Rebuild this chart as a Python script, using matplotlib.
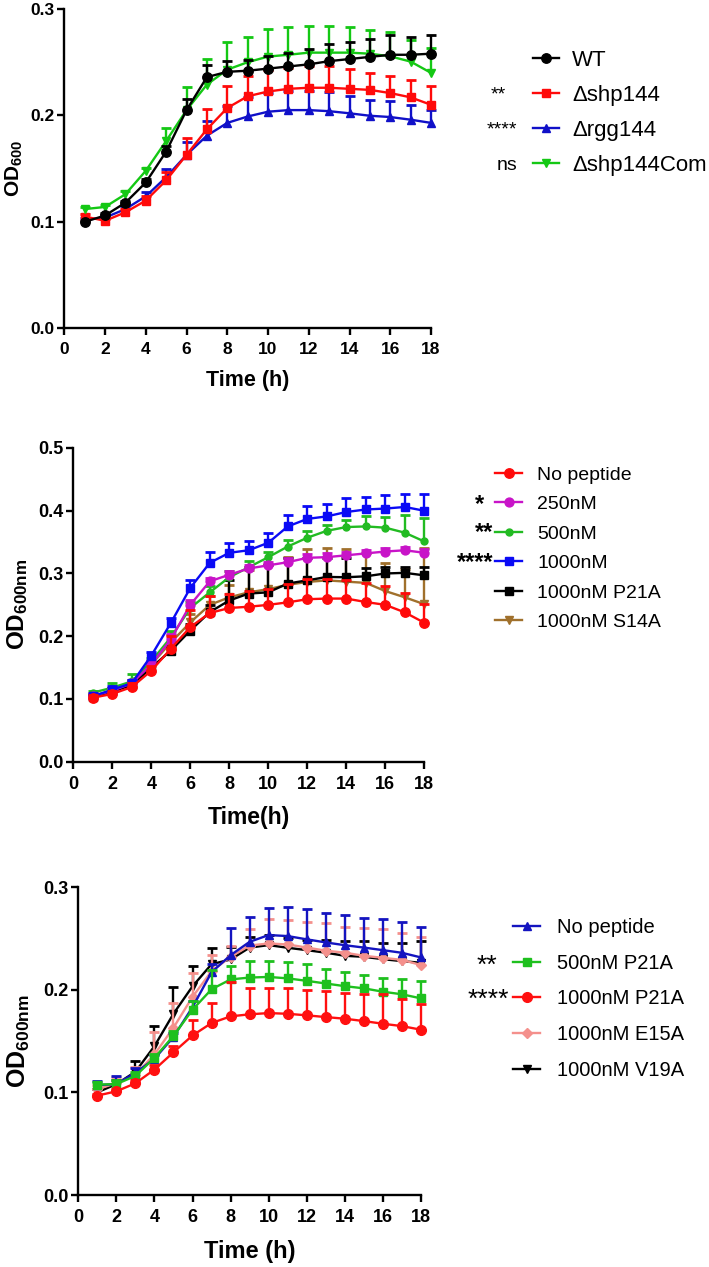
import numpy as np
import matplotlib
matplotlib.use("Agg")
import matplotlib.pyplot as plt

plt.rcParams['font.family'] = ['Liberation Sans', 'DejaVu Sans']
plt.rcParams['mathtext.fontset'] = 'custom'
plt.rcParams['mathtext.rm'] = 'Liberation Sans:bold'
plt.rcParams['mathtext.bf'] = 'Liberation Sans:bold'
plt.rcParams['mathtext.it'] = 'Liberation Sans:bold'

hours = list(range(1, 19))

# ---------------- Panel A ----------------
a_labels = ["WT", "\u0394shp144", "\u0394rgg144", "\u0394shp144Com"]
a_wt = [0.100, 0.106, 0.118, 0.137, 0.166, 0.205, 0.236, 0.241, 0.242, 0.244, 0.246, 0.248, 0.251, 0.253, 0.255, 0.257, 0.257, 0.258]
a_wt_err = [0.001, 0.002, 0.002, 0.003, 0.005, 0.010, 0.011, 0.010, 0.010, 0.012, 0.013, 0.0145, 0.016, 0.016, 0.017, 0.019, 0.017, 0.018]
a_shp = [0.105, 0.101, 0.109, 0.120, 0.139, 0.163, 0.187, 0.207, 0.218, 0.2225, 0.225, 0.226, 0.226, 0.225, 0.224, 0.221, 0.217, 0.210]
a_shp_err = [0.002, 0.002, 0.003, 0.004, 0.008, 0.016, 0.019, 0.021, 0.019, 0.020, 0.020, 0.020, 0.020, 0.019, 0.016, 0.016, 0.016, 0.018]
a_rgg = [0.102, 0.104, 0.112, 0.124, 0.142, 0.163, 0.181, 0.193, 0.199, 0.2035, 0.205, 0.205, 0.204, 0.202, 0.1997, 0.1985, 0.196, 0.193]
a_rgg_err = [0.002, 0.002, 0.003, 0.004, 0.008, 0.012, 0.014, 0.016, 0.018, 0.018, 0.018, 0.018, 0.018, 0.016, 0.015, 0.015, 0.014, 0.012]
a_com = [0.112, 0.114, 0.126, 0.148, 0.176, 0.205, 0.229, 0.243, 0.250, 0.2553, 0.257, 0.259, 0.259, 0.259, 0.258, 0.2555, 0.2506, 0.240]
a_com_err = [0.002, 0.002, 0.003, 0.003, 0.012, 0.022, 0.024, 0.026, 0.024, 0.026, 0.026, 0.025, 0.025, 0.024, 0.022, 0.023, 0.020, 0.023]
a_sig = ["", "**", "****", "ns"]

# ---------------- Panel B ----------------
b_labels = ["No peptide", "250nM", "500nM", "1000nM", "1000nM P21A", "1000nM S14A"]
b_none = [0.102, 0.108, 0.119, 0.145, 0.180, 0.2146, 0.237, 0.245, 0.247, 0.250, 0.254, 0.259, 0.260, 0.260, 0.2545, 0.250, 0.238, 0.2215]
b_none_err = [0.004, 0.005, 0.006, 0.008, 0.020, 0.027, 0.027, 0.022, 0.025, 0.025, 0.030, 0.032, 0.031, 0.030, 0.030, 0.030, 0.031, 0.030]
b_250 = [0.105, 0.113, 0.125, 0.155, 0.195, 0.250, 0.2875, 0.298, 0.308, 0.313, 0.318, 0.325, 0.326, 0.329, 0.332, 0.335, 0.337, 0.333]
b_250_err = [0.004, 0.005, 0.006, 0.006, 0.008, 0.008, 0.006, 0.006, 0.006, 0.006, 0.006, 0.006, 0.006, 0.006, 0.006, 0.006, 0.006, 0.006]
b_500 = [0.110, 0.118, 0.128, 0.160, 0.198, 0.245, 0.270, 0.294, 0.310, 0.326, 0.343, 0.357, 0.368, 0.374, 0.375, 0.373, 0.365, 0.351]
b_500_err = [0.003, 0.007, 0.012, 0.005, 0.010, 0.010, 0.010, 0.010, 0.010, 0.009, 0.011, 0.010, 0.009, 0.012, 0.016, 0.017, 0.028, 0.038]
b_1000 = [0.104, 0.115, 0.125, 0.169, 0.221, 0.277, 0.317, 0.333, 0.337, 0.349, 0.375, 0.387, 0.391, 0.398, 0.402, 0.4035, 0.406, 0.400]
b_1000_err = [0.004, 0.005, 0.006, 0.006, 0.008, 0.013, 0.018, 0.016, 0.014, 0.015, 0.019, 0.020, 0.020, 0.022, 0.020, 0.021, 0.020, 0.026]
b_p21a = [0.103, 0.112, 0.122, 0.150, 0.177, 0.209, 0.2385, 0.257, 0.268, 0.270, 0.284, 0.289, 0.2945, 0.294, 0.2955, 0.300, 0.301, 0.297]
b_p21a_err = [0.004, 0.005, 0.006, 0.006, 0.008, 0.010, 0.012, 0.032, 0.042, 0.043, 0.040, 0.036, 0.030, 0.030, 0.014, 0.010, 0.010, 0.014]
b_s14a = [0.105, 0.113, 0.125, 0.155, 0.190, 0.222, 0.250, 0.262, 0.270, 0.275, 0.282, 0.2865, 0.289, 0.287, 0.285, 0.272, 0.262, 0.251]
b_s14a_err = [0.004, 0.005, 0.006, 0.006, 0.012, 0.014, 0.014, 0.020, 0.035, 0.040, 0.045, 0.052, 0.052, 0.052, 0.048, 0.045, 0.045, 0.090]
b_sig = ["", "*", "**", "****", "", ""]

# ---------------- Panel C ----------------
c_labels = ["No peptide", "500nM P21A", "1000nM P21A", "1000nM E15A", "1000nM V19A"]
c_none = [0.107, 0.108, 0.119, 0.1326, 0.154, 0.183, 0.217, 0.2336, 0.2466, 0.2532, 0.2522, 0.249, 0.246, 0.2433, 0.241, 0.2385, 0.2359, 0.2314]
c_none_err = [0.004, 0.008, 0.005, 0.004, 0.004, 0.006, 0.008, 0.026, 0.024, 0.026, 0.028, 0.030, 0.029, 0.029, 0.0285, 0.030, 0.030, 0.030]
c_p21a500 = [0.1075, 0.108, 0.116, 0.1336, 0.155, 0.1805, 0.2004, 0.210, 0.2118, 0.2124, 0.211, 0.2086, 0.206, 0.2034, 0.2013, 0.198, 0.1955, 0.1915]
c_p21a500_err = [0.003, 0.004, 0.004, 0.004, 0.005, 0.008, 0.019, 0.013, 0.016, 0.0154, 0.016, 0.016, 0.0146, 0.014, 0.0134, 0.0138, 0.0153, 0.017]
c_p21a1000 = [0.0968, 0.101, 0.1088, 0.1222, 0.139, 0.1554, 0.1675, 0.174, 0.176, 0.1772, 0.1765, 0.175, 0.1733, 0.1717, 0.1694, 0.1668, 0.1645, 0.161]
c_p21a1000_err = [0.002, 0.002, 0.003, 0.004, 0.006, 0.015, 0.020, 0.033, 0.026, 0.0245, 0.025, 0.0244, 0.025, 0.025, 0.026, 0.0287, 0.026, 0.0254]
c_e15a = [0.103, 0.109, 0.117, 0.137, 0.163, 0.193, 0.218, 0.232, 0.243, 0.245, 0.244, 0.241, 0.238, 0.236, 0.233, 0.231, 0.229, 0.224]
c_e15a_err = [0.004, 0.006, 0.008, 0.022, 0.024, 0.023, 0.016, 0.011, 0.016, 0.0235, 0.024, 0.025, 0.027, 0.025, 0.027, 0.028, 0.026, 0.0275]
c_v19a = [0.100, 0.108, 0.120, 0.145, 0.1766, 0.2033, 0.2248, 0.2294, 0.241, 0.2434, 0.2408, 0.2385, 0.236, 0.233, 0.232, 0.2297, 0.2278, 0.2262]
c_v19a_err = [0.003, 0.004, 0.011, 0.020, 0.026, 0.020, 0.0154, 0.012, 0.010, 0.010, 0.010, 0.010, 0.012, 0.014, 0.015, 0.016, 0.018, 0.021]
c_sig = ["", "**", "****", "", ""]

W, H = 709, 1267
fig = plt.figure(figsize=(W / 100, H / 100), dpi=100)


def fx(px):
    return px / W


def fy(py):
    return 1 - py / H


def make_axes(left, right, top, bottom):
    return fig.add_axes([fx(left), fy(bottom), fx(right) - fx(left), fy(top) - fy(bottom)])


def draw_series(ax, x, y, err, color, marker, ms, label, z, lw=1.7, cap=6.5):
    x = np.asarray(x, float)
    y = np.asarray(y, float)
    e = np.asarray(err, float)
    ax.vlines(x, y, y + e, colors=color, lw=lw, zorder=z, clip_on=False)
    ax.plot(x, y + e, ls='none', marker='_', ms=cap, mew=lw + 0.3, color=color,
            zorder=z, clip_on=False)
    ln, = ax.plot(x, y, color=color, lw=lw, marker=marker, ms=ms, mec=color, mfc=color,
                  label=label, zorder=z + 0.5, clip_on=False)
    return ln


def style_axes(ax, ylim, yticks, tick_fs, xlabel, ylabel, xl_fs, yl_fs, xlabelpad, ylabelpad):
    ax.set_xlim(0, 18)
    ax.set_ylim(*ylim)
    ax.set_xticks(range(0, 19, 2))
    ax.set_yticks(yticks)
    ax.set_yticklabels([f"{t:.1f}" for t in yticks])
    for s in ['top', 'right']:
        ax.spines[s].set_visible(False)
    for s in ['left', 'bottom']:
        ax.spines[s].set_linewidth(1.7)
    ax.tick_params(axis='x', direction='out', length=5, width=1.7, labelsize=tick_fs, pad=5)
    ax.tick_params(axis='y', direction='out', length=5, width=1.7, labelsize=tick_fs, pad=2)
    for t in ax.get_xticklabels() + ax.get_yticklabels():
        t.set_fontweight('bold')
    ax.set_xlabel(xlabel, fontsize=xl_fs, fontweight='bold', labelpad=xlabelpad)
    ax.set_ylabel(ylabel, fontsize=yl_fs, labelpad=ylabelpad)


def add_legend(ax, handles, labels, left_px, top_px, fs, hl, htp, ls):
    leg = ax.legend(handles, labels, loc='upper left',
                    bbox_to_anchor=(fx(left_px), fy(top_px)), bbox_transform=fig.transFigure,
                    frameon=False, fontsize=fs, handlelength=hl, handletextpad=htp,
                    labelspacing=ls, borderpad=0, borderaxespad=0)
    return leg


def add_sig(texts, xs_px, rows_px, fs, weight='normal'):
    for t, x, r in zip(texts, xs_px, rows_px):
        if t:
            fig.text(fx(x), fy(r), t, ha='right', va='center', fontsize=fs, fontweight=weight)


# ---- Panel A ----
ax1 = make_axes(64.3, 431, 9, 328.3)
h_rgg = draw_series(ax1, hours, a_rgg, a_rgg_err, '#1010c8', '^', 6.4, a_labels[2], 2)
h_shp = draw_series(ax1, hours, a_shp, a_shp_err, '#ff0a0a', 's', 6.2, a_labels[1], 3)
h_com = draw_series(ax1, hours, a_com, a_com_err, '#14c814', 'v', 6.4, a_labels[3], 4)
h_wt = draw_series(ax1, hours, a_wt, a_wt_err, '#000000', 'o', 6.8, a_labels[0], 5)
style_axes(ax1, (0, 0.3), [0.0, 0.1, 0.2, 0.3], 12.5, 'Time (h)',
           r'$\mathbf{OD_{600}}$', 15.5, 15, 9, 4)
add_legend(ax1, [h_wt, h_shp, h_rgg, h_com], a_labels, 533, 49.5, 16, 1.15, 0.62, 0.64)
add_sig(a_sig, [517, 506, 517, 517], [57, 95, 130, 165], 14)

# ---- Panel B ----
ax2 = make_axes(73.3, 424.3, 448, 761.7)
hb_s14 = draw_series(ax2, hours, b_s14a, b_s14a_err, '#a0702c', 'v', 6.2, b_labels[5], 2)
hb_p21 = draw_series(ax2, hours, b_p21a, b_p21a_err, '#000000', 's', 6.2, b_labels[4], 3)
hb_500 = draw_series(ax2, hours, b_500, b_500_err, '#22bb22', 'o', 5.0, b_labels[2], 4)
hb_250 = draw_series(ax2, hours, b_250, b_250_err, '#c814c8', 'o', 6.4, b_labels[1], 5)
hb_1000 = draw_series(ax2, hours, b_1000, b_1000_err, '#0a0af5', 's', 6.4, b_labels[3], 6)
hb_none = draw_series(ax2, hours, b_none, b_none_err, '#ff0a0a', 'o', 6.8, b_labels[0], 7)
style_axes(ax2, (0, 0.5), [0.0, 0.1, 0.2, 0.3, 0.4, 0.5], 13, 'Time(h)',
           r'$\mathbf{OD_{600nm}}$', 16.5, 17.5, 10, 6)
add_legend(ax2, [hb_none, hb_250, hb_500, hb_1000, hb_p21, hb_s14], b_labels,
           495, 466, 14, 1.4, 0.77, 0.61)
add_sig(b_sig, [493, 484, 493, 493, 493, 493], [473, 505, 533, 563, 588, 618], 17, 'bold')

# ---- Panel C ----
ax3 = make_axes(78.3, 421, 887, 1195)
hc_v19 = draw_series(ax3, hours, c_v19a, c_v19a_err, '#000000', 'v', 6.4, c_labels[4], 2)
hc_e15 = draw_series(ax3, hours, c_e15a, c_e15a_err, '#f4908c', 'D', 4.8, c_labels[3], 3)
hc_none = draw_series(ax3, hours, c_none, c_none_err, '#1414c0', '^', 6.4, c_labels[0], 4)
hc_500 = draw_series(ax3, hours, c_p21a500, c_p21a500_err, '#1ec01e', 's', 6.4, c_labels[1], 5)
hc_1000 = draw_series(ax3, hours, c_p21a1000, c_p21a1000_err, '#ff1010', 'o', 7.0, c_labels[2], 6)
style_axes(ax3, (0, 0.3), [0.0, 0.1, 0.2, 0.3], 13, 'Time (h)',
           r'$\mathbf{OD_{600nm}}$', 17, 18, 10, 8)
add_legend(ax3, [hc_none, hc_500, hc_1000, hc_e15, hc_v19], c_labels,
           513, 918, 14.5, 1.35, 0.84, 0.83)
add_sig(c_sig, [508, 497, 509, 508, 508], [927, 966, 1000, 1034, 1070], 19)

fig.savefig('out.png', dpi=100)
